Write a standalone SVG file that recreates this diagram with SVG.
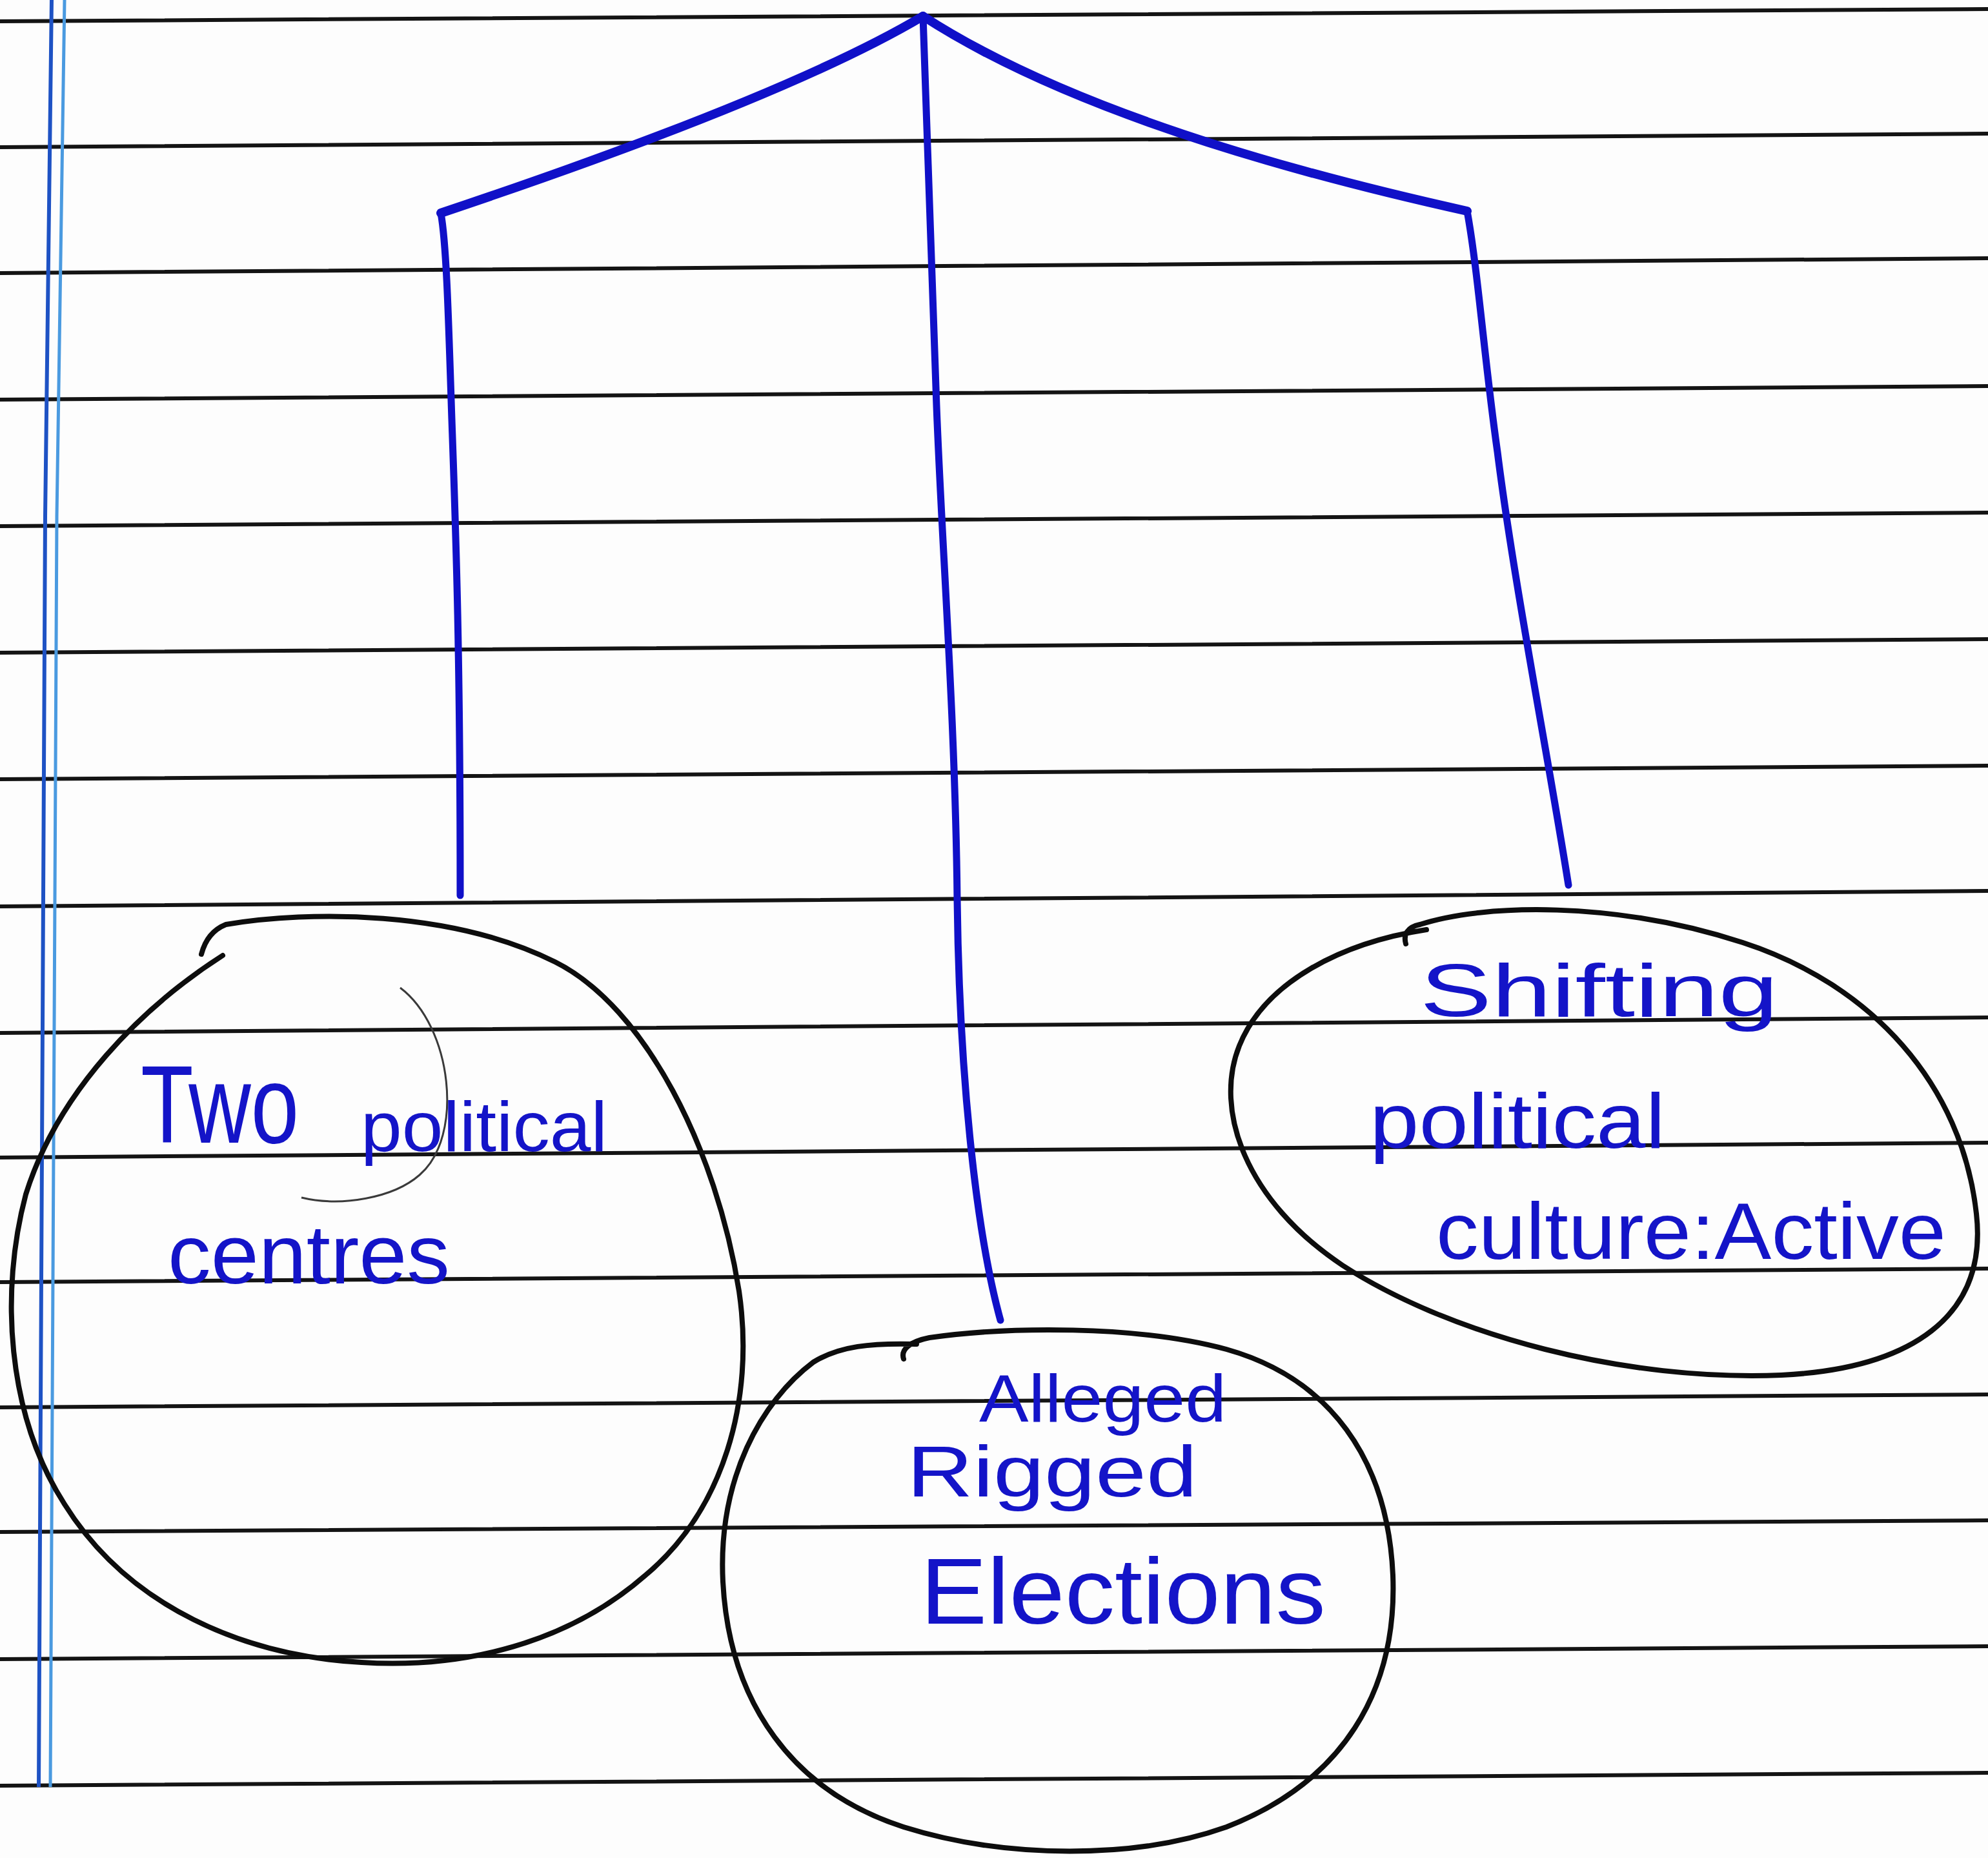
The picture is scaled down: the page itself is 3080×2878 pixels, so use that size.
<svg xmlns="http://www.w3.org/2000/svg" width="3080" height="2878" viewBox="0 0 3080 2878">
<style>
.rule{fill:none;stroke:#141414;stroke-width:6;stroke-linecap:round}
.m1{fill:none;stroke:#1e52c4;stroke-width:6}
.m2{fill:none;stroke:#4a9ae0;stroke-width:5}
.conn{fill:none;stroke:#1010c8;stroke-width:11;stroke-linecap:round;stroke-linejoin:round}
.conn-top{stroke-width:14}
.node{fill:none;stroke:#0d0d0d;stroke-width:8;stroke-linecap:round;stroke-linejoin:round}
.faint{fill:none;stroke:#3a3a3a;stroke-width:3}
.label{font-family:"Liberation Sans","DejaVu Sans",sans-serif;fill:#1414c8}
</style>
<rect width="3080" height="2878" fill="#fdfdfd"/>
<g id="paper">
<path class="rule" d="M0,33 Q1540,22 3080,14"/>
<path class="rule" d="M0,228 Q1540,216 3080,207"/>
<path class="rule" d="M0,423 Q1540,410 3080,400"/>
<path class="rule" d="M0,619 Q1540,606 3080,598"/>
<path class="rule" d="M0,815 Q1540,802 3080,794"/>
<path class="rule" d="M0,1011 Q1540,998 3080,990"/>
<path class="rule" d="M0,1207 Q1540,1194 3080,1186"/>
<path class="rule" d="M0,1404 Q1540,1390 3080,1380"/>
<path class="rule" d="M0,1600 Q1540,1586 3080,1576"/>
<path class="rule" d="M0,1793 Q1540,1780 3080,1770"/>
<path class="rule" d="M0,1986 Q1540,1974 3080,1965"/>
<path class="rule" d="M0,2180 Q1540,2168 3080,2160"/>
<path class="rule" d="M0,2373 Q1540,2362 3080,2355"/>
<path class="rule" d="M0,2570 Q1540,2558 3080,2550"/>
<path class="rule" d="M0,2766 Q1540,2754 3080,2746"/>
<path class="m1" d="M80,0 L70,800 L60,2768"/>
<path class="m2" d="M100,0 L88,800 L78,2768"/>
</g>
<g id="connectors">
<path class="conn conn-top" d="M1430,25 Q1220,150 683,330"/>
<path class="conn conn-top" d="M1430,25 Q1700,200 2273,327"/>
<path class="conn" d="M683,330 C692,380 695,500 700,650 C706,820 713,1000 713,1387"/>
<path class="conn" d="M1430,25 L1450,600 C1456,800 1480,1100 1483,1394 C1486,1650 1510,1900 1550,2045"/>
<path class="conn" d="M2273,327 C2290,420 2300,560 2320,700 C2345,900 2400,1180 2430,1371"/>
</g>
<g id="node-two-political-centres">
<path class="node" d="M312,1478 C318,1455 330,1440 350,1432 C480,1410 700,1410 860,1490 C1000,1560 1110,1780 1145,2000 C1170,2170 1120,2340 1000,2440 C880,2545 720,2585 560,2575 C380,2565 200,2490 100,2330 C10,2190 0,2000 40,1850 C90,1690 220,1560 345,1480"/>
<path class="faint" d="M620,1530 C700,1590 720,1760 650,1820 C610,1855 530,1870 467,1855"/>
<text class="label" x="218" y="1770" font-size="170" textLength="245" lengthAdjust="spacingAndGlyphs">Two</text>
<text class="label" x="559" y="1783" font-size="110" textLength="382" lengthAdjust="spacingAndGlyphs">political</text>
<text class="label" x="260" y="1988" font-size="130" textLength="437" lengthAdjust="spacingAndGlyphs">centres</text>
</g>
<g id="node-alleged-rigged-elections">
<path class="node" d="M1400,2105 C1395,2090 1410,2078 1440,2072 C1560,2055 1760,2052 1900,2090 C2060,2135 2150,2260 2158,2440 C2165,2620 2080,2760 1900,2830 C1760,2880 1560,2880 1400,2830 C1230,2775 1130,2640 1120,2450 C1112,2290 1180,2170 1260,2110 C1300,2085 1350,2080 1420,2082"/>
<text class="label" x="1517" y="2202" font-size="104" textLength="383" lengthAdjust="spacingAndGlyphs">Alleged</text>
<text class="label" x="1405" y="2318" font-size="112" textLength="450" lengthAdjust="spacingAndGlyphs">Rigged</text>
<text class="label" x="1426" y="2515" font-size="145" textLength="628" lengthAdjust="spacingAndGlyphs">Elections</text>
</g>
<g id="node-shifting-political-culture">
<path class="node" d="M2178,1462 C2174,1448 2180,1436 2200,1432 C2300,1400 2500,1395 2700,1460 C2900,1525 3040,1680 3062,1880 C3080,2040 2960,2120 2760,2130 C2520,2140 2250,2070 2080,1960 C1930,1860 1880,1720 1920,1620 C1960,1520 2080,1460 2210,1440"/>
<text class="label" x="2200" y="1574" font-size="115" textLength="555" lengthAdjust="spacingAndGlyphs">Shifting</text>
<text class="label" x="2122" y="1778" font-size="120" textLength="458" lengthAdjust="spacingAndGlyphs">political</text>
<text class="label" x="2225" y="1950" font-size="125" textLength="790" lengthAdjust="spacingAndGlyphs">culture:Active</text>
</g>
</svg>
